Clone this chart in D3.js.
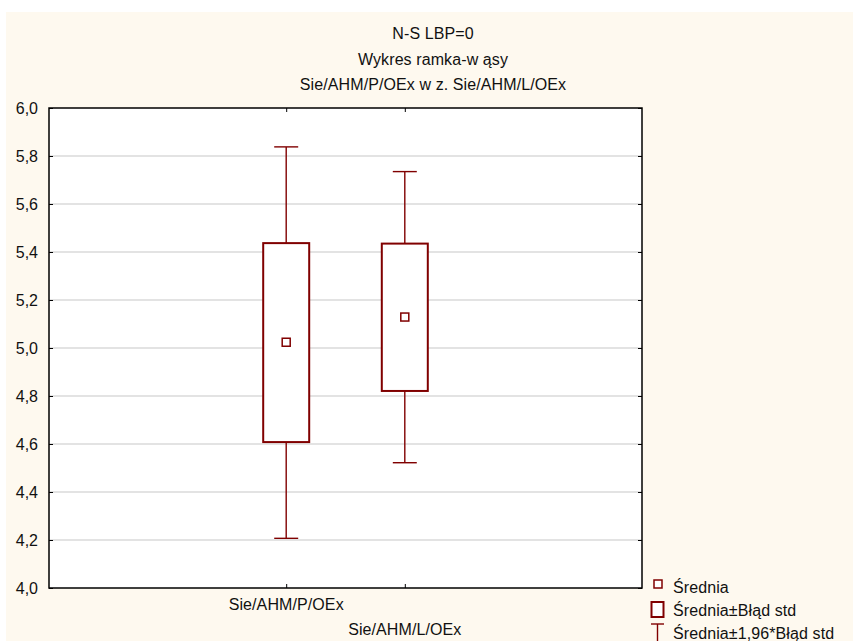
<!DOCTYPE html>
<html>
<head>
<meta charset="utf-8">
<script src="https://cdn.jsdelivr.net/npm/d3@7"></script>
<style>
  html, body { margin: 0; padding: 0; background: #ffffff; }
  svg { display: block; }
  text { font-family: "Liberation Sans", Arial, sans-serif; fill: #111; }
</style>
</head>
<body>
<script>
// Box-whisker summary: mean, mean ± std error (box), mean ± 1.96*std error (whiskers)
const categories   = ["Sie/AHM/P/OEx", "Sie/AHM/L/OEx"];
const means        = [5.024, 5.129];
const boxHigh      = [5.437, 5.435];
const boxLow       = [4.608, 4.821];
const whiskerHigh  = [5.838, 5.735];
const whiskerLow   = [4.207, 4.522];
const yTicks       = [4.0, 4.2, 4.4, 4.6, 4.8, 5.0, 5.2, 5.4, 5.6, 5.8, 6.0];
const titleLines   = ["N-S LBP=0", "Wykres ramka-w ąsy", "Sie/AHM/P/OEx w z. Sie/AHM/L/OEx"];
const legendLabels = ["Średnia", "Średnia±Błąd std", "Średnia±1,96*Błąd std"];

const W = 853, H = 641;
const plot = { left: 49, right: 642, top: 108, bottom: 588 };
const red = "#800000";
const FS = 16;

const svg = d3.select("body").append("svg").attr("width", W).attr("height", H);

// page backdrop
svg.append("rect").attr("x", 6).attr("y", 12).attr("width", W - 6).attr("height", H - 12)
  .attr("fill", "#fef9ef");

// title
svg.append("g").selectAll("text").data(titleLines).join("text")
  .attr("x", 433).attr("y", (d, i) => 39 + i * 25.5)
  .attr("text-anchor", "middle").attr("font-size", FS).attr("letter-spacing", 0.1)
  .text(d => d);

// scales: five slots across the plot, categories in slots 2 and 3
const x = d3.scaleLinear().domain([0, 5]).range([plot.left, plot.right]);
const catPos = [2, 3];
const y = d3.scaleLinear().domain([4, 6]).range([plot.bottom, plot.top]);

// plot area
svg.append("rect").attr("x", plot.left).attr("y", plot.top)
  .attr("width", plot.right - plot.left).attr("height", plot.bottom - plot.top)
  .attr("fill", "#ffffff");

// gridlines
svg.append("g").selectAll("line").data(yTicks.filter(t => t > 4 && t < 6)).join("line")
  .attr("x1", plot.left).attr("x2", plot.right)
  .attr("y1", d => y(d)).attr("y2", d => y(d))
  .attr("stroke", "#dadada").attr("stroke-width", 1.6);

// y axis with inward ticks
const yAxis = d3.axisLeft(y).tickValues(yTicks).tickSize(-4).tickPadding(11)
  .tickFormat(d => d3.format(".1f")(d).replace(".", ","));
const gy = svg.append("g").attr("transform", `translate(${plot.left},0)`).call(yAxis);
gy.select(".domain").remove();
gy.selectAll(".tick line").attr("stroke", "#000").attr("stroke-width", 1);
gy.selectAll(".tick text").attr("font-size", FS).attr("fill", "#111")
  .attr("font-family", "Liberation Sans, Arial, sans-serif").attr("x", -11);

// right side inward ticks
const gyr = svg.append("g").attr("transform", `translate(${plot.right},0)`)
  .call(d3.axisRight(y).tickValues(yTicks).tickSize(-4).tickFormat(""));
gyr.select(".domain").remove();
gyr.selectAll(".tick line").attr("stroke", "#000");

// x axis: ticks pointing into the plot, labels staggered below
const gx = svg.append("g").attr("transform", `translate(0,${plot.bottom})`)
  .call(d3.axisBottom(x).tickValues(catPos).tickSize(-4).tickFormat(""));
gx.select(".domain").remove();
gx.selectAll(".tick line").attr("stroke", "#000");
const gxt = svg.append("g").attr("transform", `translate(0,${plot.top})`)
  .call(d3.axisTop(x).tickValues(catPos).tickSize(-4).tickFormat(""));
gxt.select(".domain").remove();
gxt.selectAll(".tick line").attr("stroke", "#000");

svg.append("g").selectAll("text").data(categories).join("text")
  .attr("x", (d, i) => x(catPos[i]))
  .attr("y", (d, i) => 610 + i * 25)
  .attr("text-anchor", "middle").attr("font-size", FS).attr("letter-spacing", 0.1)
  .text(d => d);

// frame
svg.append("rect").attr("x", plot.left).attr("y", plot.top)
  .attr("width", plot.right - plot.left).attr("height", plot.bottom - plot.top)
  .attr("fill", "none").attr("stroke", "#000").attr("stroke-width", 1.5);

// boxes and whiskers
const boxW = 46, capW = 24;
const g = svg.append("g");
categories.forEach((c, i) => {
  const cx = x(catPos[i]);
  // whisker stems
  g.append("line").attr("x1", cx).attr("x2", cx)
    .attr("y1", y(whiskerHigh[i])).attr("y2", y(boxHigh[i]))
    .attr("stroke", red).attr("stroke-width", 1.4);
  g.append("line").attr("x1", cx).attr("x2", cx)
    .attr("y1", y(boxLow[i])).attr("y2", y(whiskerLow[i]))
    .attr("stroke", red).attr("stroke-width", 1.4);
  // caps
  [whiskerHigh[i], whiskerLow[i]].forEach(v => {
    g.append("line").attr("x1", cx - capW / 2).attr("x2", cx + capW / 2)
      .attr("y1", y(v)).attr("y2", y(v))
      .attr("stroke", red).attr("stroke-width", 1.4);
  });
  // box
  g.append("rect").attr("x", cx - boxW / 2).attr("y", y(boxHigh[i]))
    .attr("width", boxW).attr("height", y(boxLow[i]) - y(boxHigh[i]))
    .attr("fill", "#ffffff").attr("stroke", red).attr("stroke-width", 2);
  // mean marker
  g.append("rect").attr("x", cx - 4).attr("y", y(means[i]) - 4)
    .attr("width", 8).attr("height", 8)
    .attr("fill", "#ffffff").attr("stroke", red).attr("stroke-width", 1.5);
});

// legend
const lg = svg.append("g");
lg.append("rect").attr("x", 654).attr("y", 580).attr("width", 8).attr("height", 8)
  .attr("fill", "#fff").attr("stroke", red).attr("stroke-width", 1.5);
lg.append("rect").attr("x", 651.5).attr("y", 602).attr("width", 12).attr("height", 15)
  .attr("fill", "#fff").attr("stroke", red).attr("stroke-width", 2);
lg.append("line").attr("x1", 651).attr("x2", 664).attr("y1", 624).attr("y2", 624)
  .attr("stroke", red).attr("stroke-width", 1.4);
lg.append("line").attr("x1", 657.5).attr("x2", 657.5).attr("y1", 624).attr("y2", 641)
  .attr("stroke", red).attr("stroke-width", 1.4);
lg.selectAll("text").data(legendLabels).join("text")
  .attr("x", 673).attr("y", (d, i) => 593 + i * 23)
  .attr("font-size", FS).attr("letter-spacing", 0.1)
  .text(d => d);
</script>
</body>
</html>
